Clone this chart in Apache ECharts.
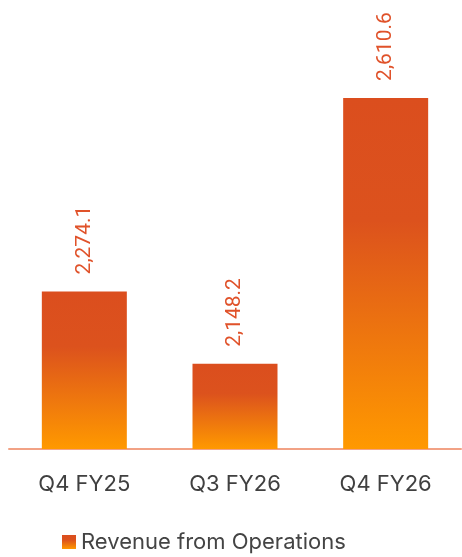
<!DOCTYPE html>
<html>
<head>
	<meta charset="utf-8" />
	<title>Revenue from Operations</title>
	<script src="https://cdn.jsdelivr.net/npm/echarts@6/dist/echarts.min.js"></script>
	<style>
		html, body { margin: 0; padding: 0; background: #fff; }
	</style>
</head>
<body>
	<!-- chart container -->
	<div id="main" style="width: 462px;height: 557px;"></div>
	<script type="text/javascript">

		// data
		var categories = ['Q4 FY25', 'Q3 FY26', 'Q4 FY26'];
		var revenue = [2274.1, 2148.2, 2610.6];
		var seriesName = 'Revenue from Operations';

		var myChart = echarts.init(document.getElementById('main'));

		var barColor = new echarts.graphic.LinearGradient(0, 0, 0, 1, [
			{ offset: 0, color: '#DB4E1E' },
			{ offset: 0.35, color: '#DC521D' },
			{ offset: 1, color: '#FF9900' }
		]);

		var option = {
			animation: false,
			textStyle: { fontFamily: 'Inter' },
			grid: {
				left: 9,
				right: 1,
				top: 46.5,
				bottom: 108,
				containLabel: false
			},
			legend: {
				data: [seriesName],
				left: 57,
				top: 526,
				itemWidth: 14,
				itemHeight: 14,
				itemGap: 6,
				icon: 'rect',
				textStyle: { color: '#444444', fontSize: 22, fontFamily: 'Inter' }
			},
			xAxis: {
				type: 'category',
				data: categories,
				axisTick: { show: false },
				axisLine: { lineStyle: { color: '#F2A285', width: 2 } },
				axisLabel: { color: '#404040', fontSize: 22, margin: 24, fontFamily: 'Inter' }
			},
			yAxis: {
				type: 'value',
				min: 2000,
				max: 2700,
				show: false,
				splitLine: { show: false }
			},
			series: [
				{
					name: seriesName,
					type: 'bar',
					data: revenue,
					barWidth: 85,
					itemStyle: { color: barColor },
					label: {
						show: true,
						position: 'top',
						rotate: 90,
						align: 'left',
						verticalAlign: 'middle',
						distance: 17,
						color: '#E0522A',
						fontSize: 21,
						fontFamily: 'Roboto',
						formatter: function (p) {
							return p.value.toLocaleString('en-US', { minimumFractionDigits: 1 });
						}
					}
				}
			]
		};

		myChart.setOption(option);

	</script>
</body>
</html>
